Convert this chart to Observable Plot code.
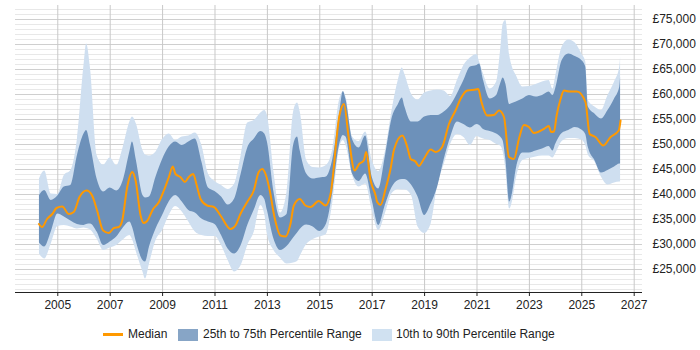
<!DOCTYPE html>
<html>
<head>
<meta charset="utf-8">
<script src="https://cdn.jsdelivr.net/npm/d3@7"></script>
<script src="https://cdn.jsdelivr.net/npm/@observablehq/plot@0.6"></script>
<style>
  html, body { margin: 0; padding: 0; background: #fff; }
  body { width: 700px; height: 350px; overflow: hidden; font-family: Arial, "Liberation Sans", sans-serif; }
  #legend { position: relative; width: 700px; height: 35px; font-size: 12px; color: #222; }
  #legend .sw { position: absolute; }
  #legend .tx { position: absolute; top: 13px; line-height: 12px; white-space: nowrap; }
</style>
</head>
<body>
<div id="chart"></div>
<div id="legend">
  <div class="sw" style="left:103px;top:18px;width:20px;height:3px;background:#ff9900"></div>
  <div class="tx" style="left:128px">Median</div>
  <div class="sw" style="left:178px;top:14px;width:20px;height:12px;background:#87a5c6"></div>
  <div class="tx" style="left:203px">25th to 75th Percentile Range</div>
  <div class="sw" style="left:372px;top:14px;width:20px;height:12px;background:#d0e1f1"></div>
  <div class="tx" style="left:396px">10th to 90th Percentile Range</div>
</div>
<script>
const xTicks = [2005, 2007, 2009, 2011, 2013, 2015, 2017, 2019, 2021, 2023, 2025, 2027];
const yTicks = [25000, 30000, 35000, 40000, 45000, 50000, 55000, 60000, 65000, 70000, 75000];
const yMinorTicks = d3.range(21000, 78000, 1000);

const bandDates = [2004.3, 2004.5, 2004.75, 2005.0, 2005.25, 2005.5, 2005.75, 2006.0, 2006.1, 2006.25, 2006.5, 2006.75,
  2007.0, 2007.25, 2007.5, 2007.75, 2007.85, 2008.0, 2008.25, 2008.35, 2008.5, 2008.75, 2009.0, 2009.25, 2009.5, 2009.75,
  2010.0, 2010.25, 2010.5, 2010.75, 2011.0, 2011.25, 2011.5, 2011.75, 2012.0, 2012.25, 2012.5, 2012.75, 2012.9, 2013.0,
  2013.25, 2013.5, 2013.75, 2014.0, 2014.15, 2014.25, 2014.5, 2014.75, 2015.0, 2015.25, 2015.5, 2015.75, 2015.9, 2016.0,
  2016.25, 2016.5, 2016.75, 2017.0, 2017.25, 2017.5, 2017.75, 2018.0, 2018.15, 2018.25, 2018.5, 2018.75, 2019.0, 2019.25,
  2019.5, 2019.75, 2020.0, 2020.25, 2020.5, 2020.75, 2021.0, 2021.1, 2021.25, 2021.5, 2021.75, 2021.9, 2022.0, 2022.1,
  2022.25, 2022.35, 2022.5, 2022.75, 2023.0, 2023.25, 2023.5, 2023.75, 2023.9, 2024.0, 2024.25, 2024.5, 2024.75, 2025.0,
  2025.15, 2025.25, 2025.5, 2025.75, 2026.0, 2026.25, 2026.45, 2026.48];

const p90 = [43100, 44700, 40100, 40000, 43800, 44800, 51100, 65800, 70100, 65100, 47800, 45900,
  47300, 45800, 49500, 54500, 55500, 54100, 48800, 47900, 47700, 48500, 51000, 52100, 50800, 51500,
  51700, 52300, 49800, 44100, 42600, 41800, 41000, 42100, 47800, 54300, 54800, 56300, 56800, 55800,
  44500, 36300, 40500, 56500, 58300, 56600, 46800, 45400, 45300, 45800, 49100, 58800, 60500, 59500,
  51500, 50600, 52500, 46800, 44600, 48500, 56500, 62900, 65300, 64000, 60100, 58900, 60300, 60700,
  60900, 60700, 59600, 62800, 65800, 67300, 68000, 66500, 64100, 61100, 62500, 68800, 74100, 74800,
  67800, 65500, 63800, 61500, 61600, 62000, 62500, 62800, 61100, 63500, 69500, 70900, 70300, 68100,
  66500, 58800, 57500, 56800, 59800, 62500, 65500, 67500];

const p75 = [39800, 40800, 38800, 39700, 41500, 41800, 47800, 52100, 52800, 49800, 43100, 40500,
  41300, 40700, 42800, 48500, 50500, 46800, 39800, 39300, 39500, 43500, 47000, 49500, 50500, 49800,
  50500, 51100, 46500, 41300, 40600, 39500, 37900, 39100, 44100, 49300, 51100, 52600, 52100, 50500,
  40500, 35300, 36000, 49800, 51500, 48800, 44100, 43100, 43300, 43500, 47100, 55800, 60600, 59000,
  51000, 49300, 51700, 43500, 41100, 47500, 55000, 58000, 59300, 57500, 54500, 54500, 55500, 55800,
  55800, 56500, 57800, 60100, 62800, 65500, 65800, 66100, 62800, 59100, 59800, 62100, 63300, 62100,
  58000, 58200, 58500, 59100, 59800, 59500, 59800, 60500, 59800, 61100, 66800, 68100, 67600, 66800,
  65500, 57500, 56100, 55100, 56800, 59100, 61500, 63500];

const p25 = [30300, 29500, 32500, 36100, 35500, 34700, 34000, 33800, 34000, 34100, 32500, 29800,
  30500, 31500, 33300, 34500, 33500, 30500, 26800, 26500, 29500, 33100, 35800, 38500, 39800, 38500,
  36800, 36300, 35100, 34500, 34000, 31800, 29100, 28100, 29800, 33800, 36900, 39800, 39000, 36800,
  31100, 28800, 29600, 31300, 32300, 33000, 33900, 33500, 32600, 34000, 40500, 49800, 51800, 51500,
  44100, 42600, 44100, 38800, 33800, 37800, 41300, 42800, 43000, 43000, 41900, 39500, 35800, 38100,
  41500, 47000, 51500, 54500, 54000, 53300, 54000, 53800, 53000, 52600, 52100, 51500, 50700, 47100,
  38500, 40100, 45100, 48300, 48300, 48700, 49100, 49600, 48700, 50000, 52200, 52800, 53400, 52900,
  52000, 49400, 46800, 44300, 44800, 45500, 46100, 46100];

const p10 = [28100, 27100, 30100, 33600, 33800, 33500, 33100, 33300, 33200, 32900, 31100, 28800,
  29300, 29800, 30900, 31800, 31000, 28500, 24500, 23100, 26100, 30800, 32800, 35800, 37600, 36500,
  34500, 32500, 31800, 31600, 31600, 29800, 26800, 24500, 25800, 29800, 32500, 37800, 36000, 32100,
  28800, 27300, 26100, 26300, 26600, 27600, 30000, 31000, 31500, 32000, 38500, 49100, 50800, 49800,
  43800, 41500, 42100, 36800, 32800, 36100, 40100, 41000, 40900, 40900, 39800, 33500, 32200, 34100,
  41800, 46000, 50100, 52000, 51400, 49800, 51600, 51400, 51100, 50800, 50000, 49700, 48500, 45100,
  37100, 38500, 43100, 46800, 47200, 47500, 47700, 47700, 47300, 48100, 50600, 51200, 51200, 50900,
  49800, 47900, 46500, 43500, 41900, 42300, 42500, 42500];

const medianDates = [2004.28, 2004.40, 2004.59, 2004.79, 2004.95, 2005.17, 2005.42, 2005.61, 2005.83, 2006.10, 2006.31,
  2006.50, 2006.73, 2006.95, 2007.14, 2007.33, 2007.46, 2007.65, 2007.84, 2007.97, 2008.16, 2008.28, 2008.41, 2008.64,
  2008.86, 2009.05, 2009.24, 2009.39, 2009.49, 2009.68, 2009.85, 2010.00, 2010.17, 2010.29, 2010.45, 2010.70, 2010.96,
  2011.21, 2011.59, 2011.78, 2011.97, 2012.23, 2012.48, 2012.67, 2012.80, 2012.93, 2013.09, 2013.27, 2013.50, 2013.69,
  2013.88, 2014.01, 2014.24, 2014.45, 2014.65, 2014.96, 2015.22, 2015.41, 2015.75, 2015.92, 2016.11, 2016.33, 2016.50,
  2016.68, 2016.77, 2016.94, 2017.13, 2017.19, 2017.32, 2017.51, 2017.70, 2017.84, 2018.15, 2018.34, 2018.47, 2018.65,
  2018.78, 2018.97, 2019.23, 2019.42, 2019.67, 2019.93, 2020.18, 2020.37, 2020.63, 2020.95, 2021.05, 2021.17, 2021.39,
  2021.65, 2021.84, 2022.03, 2022.22, 2022.41, 2022.60, 2022.79, 2022.98, 2023.17, 2023.55, 2023.74, 2023.83, 2023.94,
  2024.04, 2024.19, 2024.32, 2024.51, 2024.82, 2025.14, 2025.30, 2025.52, 2025.82, 2026.10, 2026.41, 2026.48];

const medianValues = [34100, 33500, 35100, 36100, 37300, 37600, 36100, 36500, 39500, 40800, 39800,
  36800, 32800, 32300, 33300, 33500, 34800, 41500, 44500, 42800, 35800, 34300, 34700, 37100,
  38500, 40800, 43500, 45600, 44100, 43500, 42500, 43500, 44100, 42100, 39100, 37800, 37500,
  35800, 33100, 33800, 36100, 38500, 40800, 44500, 45100, 44100, 40800, 35500, 31800, 31600,
  34100, 37800, 39100, 37800, 37500, 38700, 37800, 40100, 55800, 58100, 51100, 44800, 46100,
  46800, 48500, 42800, 39800, 38500, 37900, 41100, 45100, 49100, 51800, 49500, 47100, 46600,
  45700, 47100, 49000, 48500, 49500, 54100, 56800, 59100, 60800, 61000, 61100, 58500, 55800,
  55900, 56800, 55500, 47500, 47100, 51100, 53900, 53500, 52300, 53100, 53700, 52500, 52600,
  55800, 59100, 60800, 60600, 60600, 58500, 52100, 51500, 49800, 51500, 52800, 54800];

const band = bandDates.map((year, i) => ({year, p10: p10[i], p25: p25[i], p75: p75[i], p90: p90[i]}));
const median = medianDates.map((year, i) => ({year, value: medianValues[i]}));

const yDomain = [20400, 77800];
const gbp = d3.format(",");

const chart = Plot.plot({
  width: 700,
  height: 315,
  marginTop: 5,
  marginBottom: 23,
  marginLeft: 15,
  marginRight: 58,
  x: {domain: [2003.386, 2027.317]},
  y: {domain: yDomain},
  style: {fontFamily: "Arial, 'Liberation Sans', sans-serif", fontSize: "12px", color: "#222", background: "#fff", overflow: "visible"},
  marks: [
    Plot.ruleY(yMinorTicks, {stroke: "#e8e8e8", strokeWidth: 1}),
    Plot.ruleY(yTicks, {stroke: "#cfcfcf", strokeWidth: 1}),
    Plot.ruleX(xTicks, {stroke: "#c8c8c8", strokeWidth: 1}),
    Plot.areaY(band, {x: "year", y1: "p10", y2: "p90", fill: "#cfdff0", curve: "monotone-x"}),
    Plot.areaY(band, {x: "year", y1: "p25", y2: "p75", fill: "#6d91ba", curve: "monotone-x"}),
    Plot.lineY(median, {x: "year", y: "value", stroke: "#ff9900", strokeWidth: 2, curve: "monotone-x"}),
    Plot.ruleY([yDomain[0]], {stroke: "#222", strokeWidth: 1}),
    Plot.axisX({ticks: xTicks, tickSize: 4, tickPadding: 4, tickFormat: d => String(d), label: null, stroke: "#222"}),
    Plot.axisY({anchor: "right", ticks: yTicks, tickSize: 0, tickPadding: 10, tickFormat: d => "£" + gbp(d), label: null})
  ]
});
document.getElementById("chart").appendChild(chart);
</script>
</body>
</html>
